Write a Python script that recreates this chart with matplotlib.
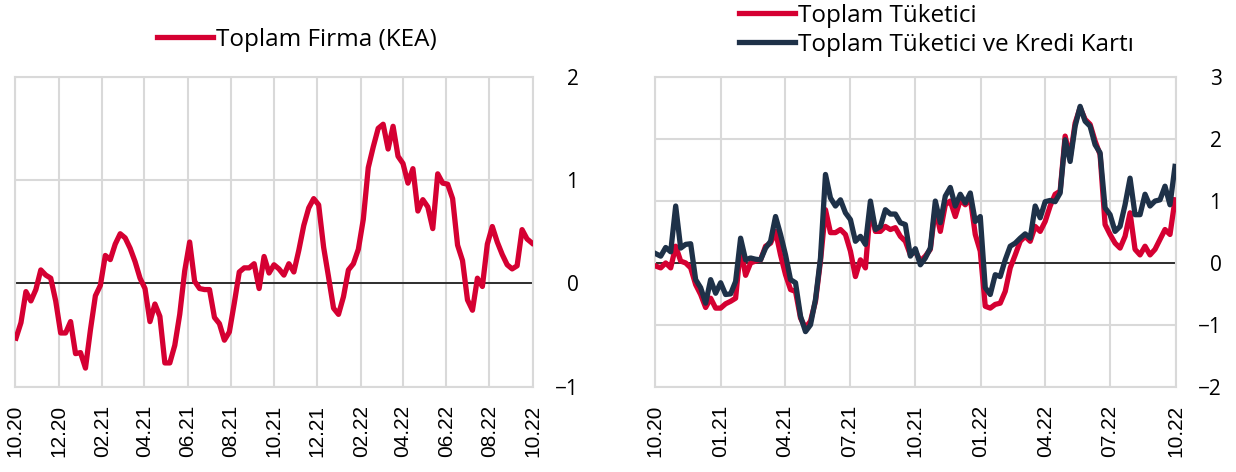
import matplotlib
matplotlib.use("Agg")
import matplotlib.pyplot as plt
import matplotlib.dates as mdates
import pandas as pd

# weekly observations, 10.2020 - 10.2022
dates = pd.date_range("2020-10-02", periods=105, freq="7D")

firma_kea = [
    -0.53, -0.38, -0.08, -0.17, -0.06, 0.13, 0.08, 0.05, -0.17, -0.48,
    -0.48, -0.37, -0.68, -0.67, -0.82, -0.45, -0.12, -0.02, 0.27, 0.23,
    0.38, 0.48, 0.44, 0.34, 0.21, 0.05, -0.05, -0.37, -0.20, -0.32,
    -0.77, -0.77, -0.60, -0.30, 0.12, 0.40, 0.02, -0.05, -0.06, -0.06,
    -0.33, -0.39, -0.55, -0.47, -0.19, 0.11, 0.15, 0.15, 0.19, -0.05,
    0.26, 0.10, 0.18, 0.14, 0.08, 0.19, 0.11, 0.32, 0.56, 0.73,
    0.82, 0.76, 0.35, 0.06, -0.24, -0.30, -0.13, 0.13, 0.19, 0.33,
    0.62, 1.12, 1.32, 1.50, 1.54, 1.30, 1.52, 1.23, 1.16, 0.97,
    1.11, 0.70, 0.81, 0.74, 0.53, 1.06, 0.97, 0.96, 0.82, 0.37,
    0.22, -0.16, -0.26, 0.05, -0.03, 0.38, 0.55, 0.40, 0.28, 0.18,
    0.14, 0.17, 0.52, 0.43, 0.39,
]

tuketici = [
    -0.05, -0.08, 0.00, -0.08, 0.27, 0.03, 0.00, -0.08, -0.35, -0.51,
    -0.72, -0.57, -0.73, -0.73, -0.66, -0.62, -0.57, 0.25, -0.20, 0.00,
    0.03, 0.05, 0.27, 0.32, 0.51, 0.13, -0.19, -0.43, -0.46, -0.89,
    -1.05, -0.94, -0.62, 0.03, 0.86, 0.49, 0.49, 0.54, 0.46, 0.19,
    -0.22, 0.05, -0.08, 0.89, 0.51, 0.51, 0.59, 0.54, 0.57, 0.43,
    0.35, 0.13, 0.19, 0.03, 0.11, 0.22, 0.89, 0.51, 0.94, 1.00,
    0.75, 1.02, 0.94, 1.05, 0.46, 0.19, -0.70, -0.73, -0.67, -0.65,
    -0.46, -0.08, 0.13, 0.35, 0.43, 0.35, 0.59, 0.51, 0.67, 0.92,
    1.11, 1.16, 2.05, 1.70, 2.26, 2.51, 2.32, 2.24, 1.97, 1.75,
    0.62, 0.46, 0.32, 0.24, 0.43, 0.81, 0.22, 0.13, 0.27, 0.13,
    0.22, 0.38, 0.54, 0.46, 1.02,
]

tuketici_kk = [
    0.15, 0.11, 0.25, 0.18, 0.92, 0.24, 0.30, 0.31, -0.27, -0.40,
    -0.65, -0.27, -0.49, -0.32, -0.51, -0.50, -0.30, 0.40, 0.05, 0.08,
    0.06, 0.05, 0.24, 0.35, 0.75, 0.46, 0.13, -0.27, -0.32, -0.86,
    -1.11, -1.00, -0.59, 0.08, 1.43, 1.05, 0.92, 1.02, 0.81, 0.70,
    0.35, 0.43, 0.30, 1.00, 0.54, 0.59, 0.86, 0.79, 0.79, 0.65,
    0.62, 0.11, 0.23, -0.03, 0.08, 0.24, 1.00, 0.65, 1.08, 1.22,
    0.92, 1.11, 0.97, 1.13, 0.67, 0.75, -0.40, -0.51, -0.19, -0.22,
    0.05, 0.27, 0.32, 0.40, 0.47, 0.40, 0.92, 0.73, 0.99, 1.01,
    0.99, 1.13, 1.99, 1.64, 2.21, 2.53, 2.29, 2.21, 1.91, 1.78,
    0.89, 0.78, 0.51, 0.59, 0.94, 1.37, 0.78, 0.78, 1.11, 0.92,
    1.00, 1.02, 1.24, 0.94, 1.56,
]

left_yticks = [-1, 0, 1, 2]
right_yticks = [-2, -1, 0, 1, 2, 3]

RED = "#D50032"
NAVY = "#1E3148"
GRID = "#D9D9D9"

x_start = pd.Timestamp("2020-10-01")
x_end = pd.Timestamp("2022-10-01")

fig = plt.figure(figsize=(12.36, 4.72), dpi=100)
ax1 = fig.add_axes([15.3 / 1236, 1 - 386.7 / 472, 517.4 / 1236, 310 / 472])
ax2 = fig.add_axes([655 / 1236, 1 - 386.7 / 472, 520.7 / 1236, 309.4 / 472])


def style_axis(ax, yticks, month_step):
    ax.set_xlim(x_start, x_end)
    ax.set_ylim(yticks[0], yticks[-1])
    ax.set_yticks(yticks)
    ax.set_xticks(pd.date_range(x_start, x_end, freq=f"{month_step}MS"))
    ax.xaxis.set_major_formatter(mdates.DateFormatter("%m.%y"))
    ax.grid(True, color=GRID, linewidth=1.5)
    ax.axhline(0, color="black", linewidth=1.1, zorder=2)
    for s in ax.spines.values():
        s.set_color(GRID)
        s.set_linewidth(1.5)
    ax.yaxis.tick_right()
    ax.tick_params(axis="y", length=0, pad=33, labelsize=15)
    ax.tick_params(axis="x", length=0, pad=13, labelsize=15, rotation=90)
    for lab in ax.get_yticklabels():
        lab.set_fontfamily("Open Sans")
        lab.set_horizontalalignment("right")
    for lab in ax.get_xticklabels():
        lab.set_fontfamily("Liberation Sans")


ax1.plot(dates, firma_kea, color=RED, linewidth=3.8, label="Toplam Firma (KEA)", zorder=3)
style_axis(ax1, left_yticks, 2)

ax2.plot(dates, tuketici, color=RED, linewidth=3.8, label="Toplam Tüketici", zorder=3)
ax2.plot(dates, tuketici_kk, color=NAVY, linewidth=3.8, label="Toplam Tüketici ve Kredi Kartı", zorder=4)
style_axis(ax2, right_yticks, 3)

leg_font = {"family": "Open Sans", "size": 17.5}
ax1.legend(loc="center left", bbox_to_anchor=(157 / 1236, 1 - 40 / 472),
           bbox_transform=fig.transFigure, frameon=False, prop=leg_font,
           handlelength=2.3, handletextpad=0.12, borderaxespad=0, borderpad=0)
ax2.legend(loc="upper left", bbox_to_anchor=(739 / 1236, 1 - 4 / 472),
           bbox_transform=fig.transFigure, frameon=False, prop=leg_font,
           handlelength=2.3, handletextpad=0.12, labelspacing=0.2,
           borderaxespad=0, borderpad=0)

fig.savefig("out.png", dpi=100)
